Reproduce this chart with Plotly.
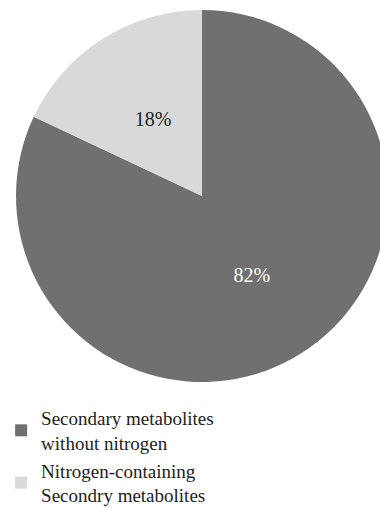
import plotly.graph_objects as go

labels = ["Secondary metabolites<br>without nitrogen", "Nitrogen-containing<br>Secondry metabolites"]
values = [82, 18]
colors = ["#707070", "#d9d9d9"]
text_colors = ["#ffffff", "#222222"]

FONT = "Liberation Serif"

# main pie (colours, legend, label of the large slice)
main = go.Pie(
    labels=labels,
    values=values,
    sort=False,
    direction="clockwise",
    rotation=0,
    marker=dict(colors=colors, line=dict(width=0)),
    texttemplate=["%{percent:.0%}", ""],
    textposition="inside",
    insidetextorientation="horizontal",
    textfont=dict(family=FONT, size=20, color=text_colors),
    hoverinfo="label+percent",
    domain=dict(x=[0, 1], y=[0, 1]),
)

# transparent concentric pie used only to place the small slice's label closer to the centre
inner_half = 0.3777
overlay = go.Pie(
    labels=labels,
    values=values,
    sort=False,
    direction="clockwise",
    rotation=0,
    marker=dict(colors=["rgba(0,0,0,0)", "rgba(0,0,0,0)"], line=dict(width=0)),
    texttemplate=["", "%{percent:.0%}"],
    textposition="inside",
    insidetextorientation="horizontal",
    textfont=dict(family=FONT, size=20, color=text_colors),
    hoverinfo="skip",
    showlegend=False,
    domain=dict(x=[0.5 - inner_half, 0.5 + inner_half], y=[0.5 - inner_half, 0.5 + inner_half]),
)

fig = go.Figure([main, overlay])

fig.update_layout(
    width=388, height=508,
    margin=dict(l=16, r=0, t=10, b=126, autoexpand=False),
    paper_bgcolor="white",
    plot_bgcolor="white",
    font=dict(family=FONT, size=19, color="#222222"),
    showlegend=True,
    legend=dict(
        x=-0.04, y=-0.046, xanchor="left", yanchor="top",
        orientation="v",
        font=dict(family=FONT, size=19, color="#222222"),
        bgcolor="rgba(0,0,0,0)",
        tracegroupgap=0,
    ),
)

fig.write_html("out.html", post_script="document.documentElement.style.overflow='hidden';document.body.style.overflow='hidden';")
